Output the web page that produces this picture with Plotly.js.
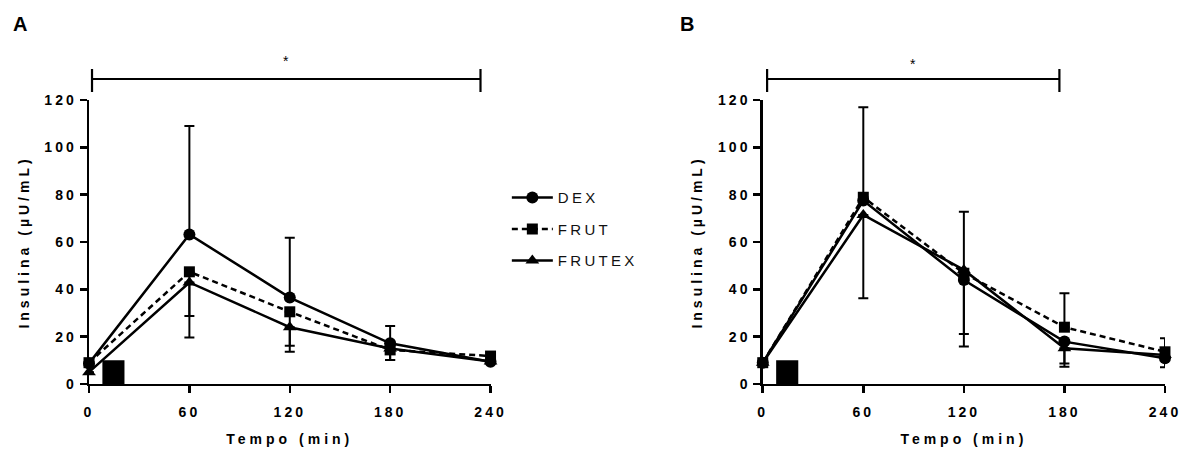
<!DOCTYPE html>
<html>
<head>
<meta charset="utf-8">
<script src="https://cdn.plot.ly/plotly-3.0.1.min.js"></script>
<style>
  html, body { margin: 0; padding: 0; background: #fff; }
  #chart { width: 1182px; height: 451px; }
  g.xtick text, g.x2tick text, g.ytick text, g.y2tick text { letter-spacing: 3px; }
  text.xtitle, text.x2title, text.ytitle, text.y2title { letter-spacing: 4px; }
  text.legendtext { letter-spacing: 3.3px; }
</style>
</head>
<body>
<div id="chart"></div>
<script>
// ---------- data ----------
const times = [0, 60, 120, 180, 240];
const xTicks = [0, 60, 120, 180, 240];
const yTicks = [0, 20, 40, 60, 80, 100, 120];
const seriesNames = ['DEX', 'FRUT', 'FRUTEX'];

// Panel A
const A_DEX    = [8.7, 63.2, 36.5, 17.2, 9.4];
const A_FRUT   = [9.0, 47.4, 30.5, 14.4, 11.8];
const A_FRUTEX = [5.0, 42.9, 24.0, 15.0, 9.5];
const A_DEX_up      = [0, 45.8, 25.3, 7.3, 0];
const A_DEX_down    = [0, 0, 0, 0, 0];
const A_FRUT_up     = [0, 0, 0, 0, 0];
const A_FRUT_down   = [0, 18.7, 14.3, 4.3, 0];
const A_FRUTEX_up   = [0, 0, 0, 0, 0];
const A_FRUTEX_down = [0, 23.3, 10.4, 4.9, 0];

// Panel B
const B_DEX    = [9.0, 77.5, 43.9, 17.9, 10.9];
const B_FRUT   = [9.0, 78.9, 46.8, 24.0, 13.6];
const B_FRUTEX = [9.0, 71.4, 48.2, 15.1, 12.2];
const B_DEX_up      = [0, 0, 28.9, 0, 0];
const B_DEX_down    = [0, 0, 0, 9.2, 3.8];
const B_FRUT_up     = [0, 38.0, 0, 14.3, 5.7];
const B_FRUT_down   = [0, 0, 25.7, 0, 0];
const B_FRUTEX_up   = [0, 0, 0, 0, 0];
const B_FRUTEX_down = [0, 35.2, 32.4, 7.8, 0];

// meal marker (black box) and significance brackets, in minutes
const mealBox = {x0: 8, x1: 21.2, y0: 0, y1: 10};
const bracketA = {x0: 1.8, x1: 234};
const bracketB = {x0: 2.6, x1: 177};
const sigLabel = '*';

// ---------- styling ----------
const FONT = 'Liberation Sans, Arial, sans-serif';
const markerSymbols = {DEX: 'circle', FRUT: 'square', FRUTEX: 'triangle-up'};
const markerSizes = {DEX: 12, FRUT: 11, FRUTEX: 12};
const dashes = {DEX: 'solid', FRUT: '6px,4px', FRUTEX: 'solid'};
const ranks = {DEX: 1, FRUT: 2, FRUTEX: 3};

function mkTrace(name, y, up, down, xa, ya, showLegend) {
  return {
    type: 'scatter', mode: 'lines+markers',
    x: times, y: y, name: name,
    xaxis: xa, yaxis: ya,
    showlegend: showLegend,
    legendgroup: name,
    legendrank: ranks[name],
    cliponaxis: false,
    line: {color: '#000', width: 2.5, dash: dashes[name]},
    marker: {color: '#000', symbol: markerSymbols[name], size: markerSizes[name]},
    error_y: {type: 'data', symmetric: false, array: up, arrayminus: down,
              color: '#000', thickness: 2, width: 5}
  };
}

const data = [
  mkTrace('DEX', A_DEX, A_DEX_up, A_DEX_down, 'x', 'y', true),
  mkTrace('FRUTEX', A_FRUTEX, A_FRUTEX_up, A_FRUTEX_down, 'x', 'y', true),
  mkTrace('FRUT', A_FRUT, A_FRUT_up, A_FRUT_down, 'x', 'y', true),
  mkTrace('DEX', B_DEX, B_DEX_up, B_DEX_down, 'x2', 'y2', false),
  mkTrace('FRUTEX', B_FRUTEX, B_FRUTEX_up, B_FRUTEX_down, 'x2', 'y2', false),
  mkTrace('FRUT', B_FRUT, B_FRUT_up, B_FRUT_down, 'x2', 'y2', false)
];

const tickFont = {family: FONT, size: 14, color: '#000', weight: 'bold'};
const titleFont = {family: FONT, size: 14, color: '#000', weight: 'bold'};
const yDomain = [0.1486, 0.7783];

function xAxis(domain, anchor) {
  return {
    domain: domain, anchor: anchor, range: [0, 240],
    tickmode: 'array', tickvals: xTicks, ticktext: xTicks.map(String),
    showline: true, linecolor: '#000', linewidth: 2.5,
    ticks: 'outside', ticklen: 7, tickwidth: 2.5, tickcolor: '#000',
    ticklabelstandoff: 7,
    showgrid: false, zeroline: false, fixedrange: true,
    tickfont: tickFont,
    title: {text: 'Tempo (min)', font: titleFont, standoff: 15}
  };
}
function yAxis(anchor) {
  return {
    domain: yDomain, anchor: anchor, range: [0, 120],
    tickmode: 'array', tickvals: yTicks, ticktext: yTicks.map(String),
    showline: true, linecolor: '#000', linewidth: 2.5,
    ticks: 'outside', ticklen: 7, tickwidth: 2.5, tickcolor: '#000',
    showgrid: false, zeroline: false, fixedrange: true,
    tickfont: tickFont,
    title: {text: 'Insulina (µU/mL)', font: titleFont, standoff: 12}
  };
}

function bracketShapes(xref, b) {
  const s = {type: 'line', xref: xref, yref: 'paper', line: {color: '#000', width: 2.2}};
  return [
    Object.assign({}, s, {x0: b.x0, x1: b.x1, y0: 0.8248, y1: 0.8248}),
    Object.assign({}, s, {x0: b.x0, x1: b.x0, y0: 0.8470, y1: 0.7960}),
    Object.assign({}, s, {x0: b.x1, x1: b.x1, y0: 0.8470, y1: 0.7960})
  ];
}
function boxShape(xref, yref) {
  return {type: 'rect', xref: xref, yref: yref,
          x0: mealBox.x0, x1: mealBox.x1, y0: mealBox.y0, y1: mealBox.y1,
          fillcolor: '#000', line: {width: 0}, layer: 'above'};
}

const layout = {
  width: 1182, height: 451,
  margin: {l: 0, r: 0, t: 0, b: 0},
  paper_bgcolor: '#fff', plot_bgcolor: '#fff',
  showlegend: true,
  xaxis: xAxis([0.0753, 0.4150], 'y'),
  yaxis: yAxis('x'),
  xaxis2: xAxis([0.6453, 0.9856], 'y2'),
  yaxis2: yAxis('x2'),
  legend: {
    x: 0.4288, y: 0.598, xanchor: 'left', yanchor: 'top',
    bgcolor: 'rgba(0,0,0,0)', borderwidth: 0,
    font: {family: FONT, size: 15, color: '#111'},
    itemwidth: 41, traceorder: 'grouped', tracegroupgap: 9
  },
  shapes: [].concat(bracketShapes('x', bracketA), bracketShapes('x2', bracketB),
                    [boxShape('x', 'y'), boxShape('x2', 'y2')]),
  annotations: [
    {text: 'A', xref: 'paper', yref: 'paper', x: 20 / 1182, y: 1 - 24 / 451,
     xanchor: 'center', yanchor: 'middle', showarrow: false,
     font: {family: FONT, size: 20, color: '#000', weight: 'bold'}},
    {text: 'B', xref: 'paper', yref: 'paper', x: 687 / 1182, y: 1 - 24 / 451,
     xanchor: 'center', yanchor: 'middle', showarrow: false,
     font: {family: FONT, size: 20, color: '#000', weight: 'bold'}},
    {text: sigLabel, xref: 'x', yref: 'paper', x: (bracketA.x0 + bracketA.x1) / 2, y: 1 - 61 / 451,
     xanchor: 'center', yanchor: 'middle', showarrow: false,
     font: {family: FONT, size: 14, color: '#000'}},
    {text: sigLabel, xref: 'x2', yref: 'paper', x: (bracketB.x0 + bracketB.x1) / 2, y: 1 - 64 / 451,
     xanchor: 'center', yanchor: 'middle', showarrow: false,
     font: {family: FONT, size: 14, color: '#000'}}
  ]
};

Plotly.newPlot('chart', data, layout, {displayModeBar: false, staticPlot: true});
</script>
</body>
</html>
